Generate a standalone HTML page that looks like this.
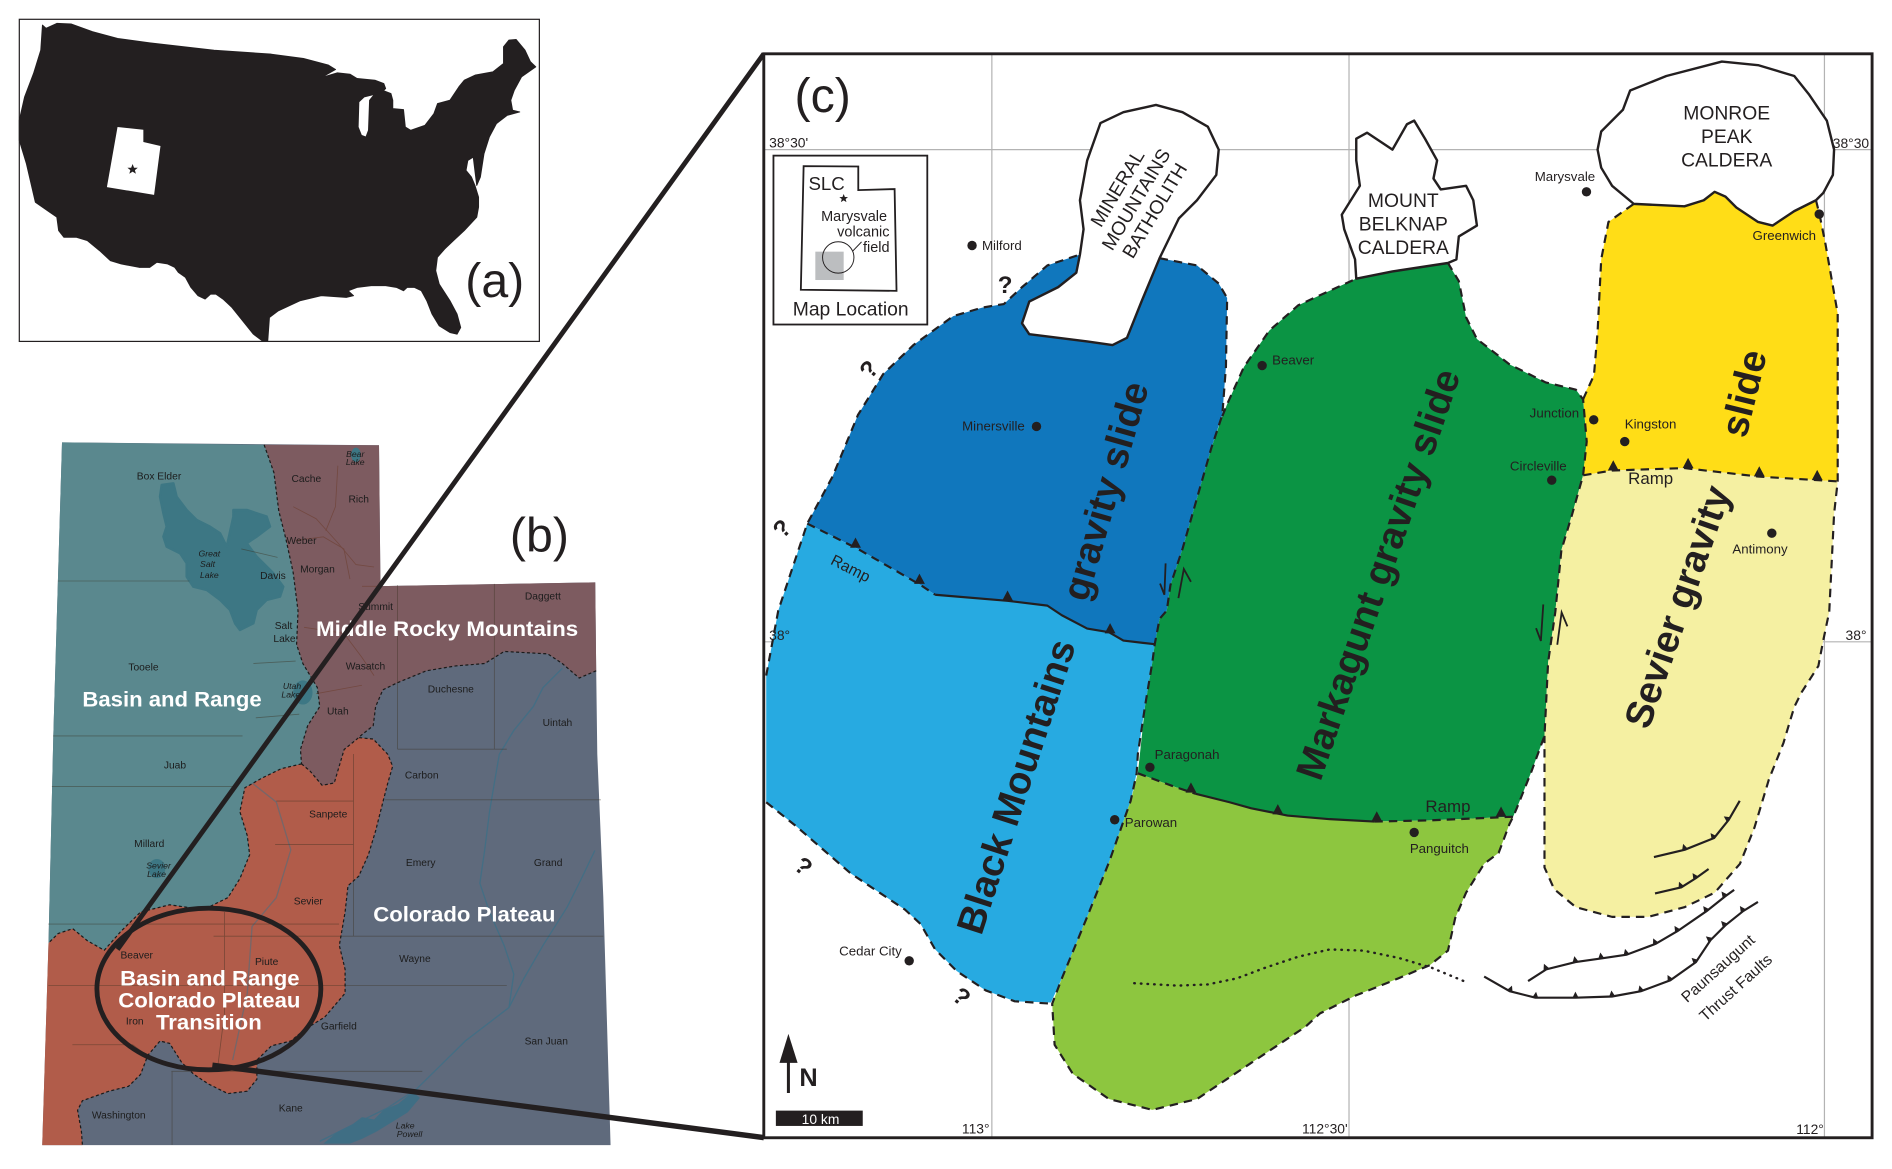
<!DOCTYPE html>
<html><head><meta charset="utf-8"><style>html,body{margin:0;padding:0;background:#fff;overflow:hidden}svg{display:block}</style></head>
<body>
<svg xmlns="http://www.w3.org/2000/svg" width="1892" height="1169" viewBox="0 0 1568 969" preserveAspectRatio="none" font-family="'Liberation Sans', Arial, sans-serif">
<defs>
<marker id="tk" markerUnits="userSpaceOnUse" markerWidth="6" markerHeight="12" viewBox="-3 -6 6 12" refX="0" refY="0" orient="auto"><path d="M-2.5,0 L2.5,0 L0,-5 Z" fill="#231f20"/></marker>
</defs>
<rect width="1568" height="969" fill="#fff"/>

<!-- Panel (a) -->
<rect x="16" y="16" width="431" height="267" fill="#fff" stroke="#231f20" stroke-width="1"/>
<path fill="#231f20" stroke="#231f20" stroke-width="0.8" stroke-linejoin="round" d="M35.2,20.8 L38.2,23.5 L47.1,19.4 L58.9,19.9 L76.7,26.3 L97.5,31.9 L124.1,35.5 L177.4,41.6 L224.8,44.9 L251.5,48.5 L272.2,54 L278.1,57.6 L266.3,64.3 L279.6,60.4 L290,61.5 L295.9,65.1 L310.7,66.5 L318.1,69.3 L319.6,73.4 L316.6,76.2 L307.7,78.9 L301.8,80.3 L297.4,84.5 L296.8,105.3 L299.5,112.2 L303.3,113.6 L305.4,108 L306.3,83.1 L310.7,77.6 L318.1,75.3 L324,77.6 L325.5,83.1 L325.5,90 L334.4,90.9 L335.9,105.3 L340.3,108 L352.2,103.9 L359.6,94.2 L362.6,85.9 L372.9,83.1 L380.3,72 L384.8,66.5 L393.7,62.3 L408.5,59.6 L417.3,52.6 L417.3,38.8 L421.8,33.2 L427.7,32.7 L435.1,41.6 L439.6,51.2 L444,55.4 L432.2,63.7 L426.2,74.8 L423.3,83.1 L424.8,91.4 L430.7,92.8 L420.3,95.6 L411.4,102.5 L405.5,113.6 L401.1,127.4 L398.1,146.8 L395.1,153.7 L392.2,130.2 L387.7,133 L386.2,141.3 L390.7,146.8 L393.6,153.7 L396.6,163.4 L396.6,171.7 L395.1,180 L384.8,191.1 L375.9,199.4 L368.5,206.4 L362.5,213.3 L361.1,224.4 L364,235.5 L372.9,249.3 L378.8,260.4 L381.8,271.5 L378.8,277 L372.9,275.6 L364,270.1 L358.1,260.4 L353.7,249.3 L349.2,241 L343.3,238.2 L337.4,238.2 L334.4,241 L328.5,238.2 L319.6,236.8 L307.7,236.8 L295.9,238.2 L288.5,241 L293,245.1 L287,246.5 L266.3,245.1 L248.5,249.3 L230.7,257.6 L223.3,263.2 L221.9,282.5 L217.4,282.5 L210,277 L201.1,265.9 L192.2,254.8 L184.8,247.9 L178.9,243.8 L174.5,243.8 L170,247.9 L164.1,245.1 L158.2,238.2 L153.7,229.9 L147.8,225.8 L144.8,221.6 L138.9,218.8 L130,217.4 L124.1,221.6 L115.2,221.6 L100.4,218.8 L91.5,216.1 L82.6,207.8 L72.3,199.4 L63.4,196.7 L53,196.7 L48.6,191.1 L47.1,180 L41.2,175.9 L29.3,167.6 L26.4,155.1 L21.9,135.7 L16,116.3 L16,99.7 L20.4,80.3 L27.8,60.9 L33.8,41.6 Z"/>
<path fill="#fff" d="M97.4,105.3 L118.8,107.5 L118.8,117.7 L133,121 L127.7,161.5 L88.6,155.1 Z"/>
<polygon fill="#231f20" points="109.9,135.9 111.1,139 114.2,139.1 111.8,141 112.6,144 109.9,142.3 107.2,144 108,141 105.6,139.1 108.7,139"/>
<text x="385.6" y="246" font-size="40" fill="#231f20">(a)</text>

<!-- Panel (b) Utah -->
<path fill="#5f6a7c" d="M51.4,366.7 L314.1,369.1 L315.3,485.9 L493.3,482.7 L494.1,556 L495,625 L500,744 L506,949.2 L35,949.2 L40.2,781.7 L44.2,609.5 Z"/>
<path fill="#b15c4a" d="M40.2,781.7 L48.2,773.8 L60.3,769.8 L72.3,779.7 L86.4,787.7 L100.4,771.8 L116.5,756 L140.6,750 L168.7,754 L188.8,744.1 L198.8,728.3 L206.9,708.5 L204.9,692.6 L198.8,672.8 L202.9,653 L217,645 L233,637.2 L249.9,633.2 L257,639.2 L267,651 L277,649 L285.2,621.3 L297.3,611.4 L309.3,612.6 L321.4,625.3 L325.4,635.2 L321.4,649 L317.3,664.9 L311.3,688.7 L305.3,708.5 L297.3,726.3 L288.4,734.2 L286,756 L281.2,783.7 L286,803.5 L286,823.3 L269.1,843.1 L253.1,853 L241,862.9 L225,866.9 L212.9,878.7 L212.9,894.6 L204.9,904.5 L188.8,906.5 L172.7,898.5 L160.7,890.6 L150.6,880.7 L140.6,864.9 L132.6,862.9 L122.5,874.8 L116.5,890.6 L106.5,900.5 L90.4,904.5 L68.3,912.4 L64.3,920.3 L67.5,938.1 L68.3,949.2 L35,949.2 Z"/>
<path fill="#7d5b60" d="M218.9,368.7 L314.1,369.1 L315.3,485.9 L493.3,482.7 L494.1,556 L480,562 L466,550 L454,542 L417.8,540 L401.7,550 L377.6,552 L353.5,556 L329.4,565.9 L317.3,571.8 L311.3,585.7 L309.3,601.5 L299.3,609.5 L297.3,611.4 L285.2,621.3 L277,649 L267,651 L257,639.2 L249.9,633.2 L249,621.3 L255,601.5 L265,585.7 L263,569.9 L251,550 L245.8,534.2 L247,506.5 L243,474.8 L237,447 L231,423.3 L227,391.7 Z"/>
<path fill="#5a888e" d="M51.4,366.7 L218.9,368.7 L227,391.7 L231,423.3 L237,447 L243,474.8 L247,506.5 L245.8,534.2 L251,550 L263,569.9 L265,585.7 L255,601.5 L249,621.3 L249.9,633.2 L233,637.2 L217,645 L202.9,653 L198.8,672.8 L204.9,692.6 L206.9,708.5 L198.8,728.3 L188.8,744.1 L168.7,754 L140.6,750 L116.5,756 L100.4,771.8 L86.4,787.7 L72.3,779.7 L60.3,769.8 L48.2,773.8 L40.2,781.7 L44.2,609.5 Z"/>
<!-- lakes -->
<path fill="#3d7784" stroke="#3d7784" stroke-width="2" stroke-linejoin="round" d="M134,402 L143.7,400.6 L146.4,411.7 L154.7,422.7 L163,431 L174,436.5 L182.4,442 L187.9,453.1 L193.4,428.2 L193.4,422.7 L204.5,422.7 L221,428.2 L223.8,436.5 L212.7,444.8 L204.5,450.3 L212.7,461.4 L226.6,475.2 L234.8,486.3 L232.1,494.5 L221,497.3 L212.7,505.6 L210,516.7 L198.9,522.2 L194.8,516.7 L190.6,505.6 L182.4,497.3 L171.3,489 L160.2,486.3 L154.7,478 L154.7,466.9 L149.2,458.6 L138.1,453.1 L135.4,444.8 L138.1,436.5 L135.4,425.5 L132.6,411.7 Z"/>
<ellipse cx="251" cy="574" rx="8" ry="10" fill="#3d7784"/>
<ellipse cx="130" cy="720" rx="7" ry="8" fill="#3d7784"/>
<ellipse cx="295" cy="377" rx="4" ry="6" fill="#3d7784"/>
<path fill="#3a6f86" opacity="0.85" d="M268,948 L280,938 L292,932 L300,926 L310,928 L318,920 L330,915 L342,905 L348,910 L338,922 L325,930 L312,938 L300,944 L290,948 Z"/>
<!-- rivers -->
<g fill="none" stroke="#3f6f86" stroke-width="1.1" opacity="0.85">
<path d="M466,554 L450,570 L442,585.7 L425.8,605.5 L413.8,625.3 L409.7,649 L405.7,672.8 L401.7,704.5 L397.7,732.2 L405.7,756 L417.8,783.7 L425.8,807.5 L421.8,835.2"/>
<path d="M493,705 L482,728 L470,752 L450,783.7 L434,811.4 L421.8,835.2 L385.6,862.9 L361.5,886.7 L345.5,902.5 L321.4,918.3 L289.2,934 L265,946"/>
<path d="M208.9,649 L229,664.9 L241,704.5 L229,744.1 L208.9,767.9 L204.9,823.3 L192.8,878.7" opacity="0.6"/>
</g>
<!-- county lines -->
<g fill="none" stroke="#3a3020" stroke-width="0.7" opacity="0.45">
<path d="M48,481.6 L157,481.6"/><path d="M44,610 L201,610"/><path d="M43,652 L193,652"/>
<path d="M40,766 L281,766"/><path d="M177,776 L500,776"/><path d="M40,817 L420,817"/>
<path d="M142,888 L350,888"/><path d="M142.6,888 L142.6,949"/><path d="M329.4,485 L329.4,621"/>
<path d="M409.7,484 L409.7,621"/><path d="M329.4,621 L420,621"/><path d="M319,663 L498,663"/>
<path d="M293,625 L293,776"/><path d="M229,664 L293,664"/><path d="M228,700 L293,700"/>
<path d="M60,866 L110,866 L118,872"/><path d="M186,756 L186,840 L180,888"/>
<path d="M200,455 L230,462"/><path d="M210,550 L245,548"/><path d="M212,595 L248,592"/>
</g>
<g fill="none" stroke="#6b3b2a" stroke-width="0.7" opacity="0.55">
<path d="M243,420 L262,430 L280,450 L295,468 L310,470"/>
<path d="M280,386 L278,420 L270,440"/>
<path d="M245,448 L268,445 L285,455 L290,480"/>
<path d="M252,520 L285,525 L300,545 L310,560"/>
<path d="M300,486 L315,486"/>
<path d="M262,575 L300,568"/>
</g>
<!-- dashed province boundaries -->
<g fill="none" stroke="#1a1a1a" stroke-width="1" stroke-dasharray="2.5 2">
<path d="M218.9,368.7 L227,391.7 L231,423.3 L237,447 L243,474.8 L247,506.5 L245.8,534.2 L251,550 L263,569.9 L265,585.7 L255,601.5 L249,621.3 L249.9,633.2"/>
<path d="M249.9,633.2 L233,637.2 L217,645 L202.9,653 L198.8,672.8 L204.9,692.6 L206.9,708.5 L198.8,728.3 L188.8,744.1 L168.7,754 L140.6,750 L116.5,756 L100.4,771.8 L86.4,787.7 L72.3,779.7 L60.3,769.8 L48.2,773.8 L40.2,781.7"/>
<path d="M494.1,556 L480,562 L466,550 L454,542 L417.8,540 L401.7,550 L377.6,552 L353.5,556 L329.4,565.9 L317.3,571.8 L311.3,585.7 L309.3,601.5 L299.3,609.5 L297.3,611.4 L309.3,612.6 L321.4,625.3 L325.4,635.2 L321.4,649 L317.3,664.9 L311.3,688.7 L305.3,708.5 L297.3,726.3 L288.4,734.2 L286,756 L281.2,783.7 L286,803.5 L286,823.3 L269.1,843.1 L253.1,853 L241,862.9 L225,866.9 L212.9,878.7 L212.9,894.6 L204.9,904.5 L188.8,906.5 L172.7,898.5 L160.7,890.6 L150.6,880.7 L140.6,864.9 L132.6,862.9 L122.5,874.8 L116.5,890.6 L106.5,900.5 L90.4,904.5 L68.3,912.4 L64.3,920.3 L67.5,938.1 L68.3,949.2"/>
<path d="M249.9,633.2 L257,639.2 L267,651 L277,649 L285.2,621.3 L297.3,611.4"/>
</g>
<!-- county labels -->
<g font-size="8.5" fill="#1c1c1c" text-anchor="middle">
<text x="131.8" y="397.4">Box Elder</text><text x="253.9" y="399.4">Cache</text>
<text x="297.3" y="416.4">Rich</text><text x="249.9" y="450.9">Weber</text>
<text x="263.1" y="474.7">Morgan</text><text x="226.2" y="479.8">Davis</text>
<text x="311.3" y="505.5">Summit</text><text x="449.9" y="496.8">Daggett</text>
<text x="235" y="521.4">Salt</text><text x="235.8" y="532">Lake</text>
<text x="118.9" y="555.8">Tooele</text><text x="302.9" y="555">Wasatch</text>
<text x="373.6" y="574">Duchesne</text><text x="280" y="592.3">Utah</text>
<text x="462" y="601.8">Uintah</text><text x="145" y="637">Juab</text>
<text x="349.5" y="645.3">Carbon</text><text x="272" y="677.8">Sanpete</text>
<text x="123.7" y="702">Millard</text><text x="348.7" y="717.8">Emery</text>
<text x="454.3" y="717.8">Grand</text><text x="255.5" y="749.9">Sevier</text>
<text x="113.3" y="794.6">Beaver</text><text x="221" y="799.8">Piute</text>
<text x="343.9" y="797.4">Wayne</text><text x="111.7" y="849.3">Iron</text>
<text x="280.8" y="853.2">Garfield</text><text x="452.7" y="865.9">San Juan</text>
<text x="98.4" y="927.3">Washington</text><text x="241" y="921.3">Kane</text>
</g>
<g font-size="7.2" fill="#1c1c1c" text-anchor="middle" font-style="italic">
<text x="294.4" y="379">Bear</text><text x="294.4" y="385.5">Lake</text>
<text x="173.5" y="461.5">Great</text><text x="172" y="470.2">Salt</text><text x="173.5" y="479">Lake</text>
<text x="242" y="571">Utah</text><text x="241" y="578">Lake</text>
<text x="131.4" y="720">Sevier</text><text x="129.7" y="727">Lake</text>
<text x="335.8" y="935.5">Lake</text><text x="339.4" y="942.5">Powell</text>
</g>
<g font-size="18" font-weight="bold" fill="#fff">
<text x="68.3" y="585.7" textLength="148.6" lengthAdjust="spacingAndGlyphs">Basin and Range</text>
<text x="261.9" y="527.1" textLength="217.3" lengthAdjust="spacingAndGlyphs">Middle Rocky Mountains</text>
<text x="309.3" y="763.9" textLength="151" lengthAdjust="spacingAndGlyphs">Colorado Plateau</text>
<text x="99.6" y="817" textLength="148.7" lengthAdjust="spacingAndGlyphs">Basin and Range</text>
<text x="98" y="835.2" textLength="151" lengthAdjust="spacingAndGlyphs">Colorado Plateau</text>
<text x="129.3" y="853.4" textLength="87.6" lengthAdjust="spacingAndGlyphs">Transition</text>
</g>
<text x="422.6" y="457" font-size="40" fill="#231f20">(b)</text>
<ellipse cx="173.1" cy="819.8" rx="92.8" ry="67" fill="none" stroke="#231f20" stroke-width="4"/>

<!-- connector lines -->
<line x1="633" y1="44.6" x2="97.4" y2="787" stroke="#231f20" stroke-width="4"/>
<line x1="176" y1="883" x2="633" y2="943" stroke="#231f20" stroke-width="4.5"/>

<!-- Panel (c) -->
<rect x="633" y="44.6" width="918.5" height="898.5" fill="#fff"/>
<g stroke="#b3b3b3" stroke-width="1">
<line x1="633" y1="124" x2="1551" y2="124"/>
<line x1="633" y1="532" x2="1551" y2="532"/>
<line x1="822" y1="44.6" x2="822" y2="943"/>
<line x1="1118" y1="44.6" x2="1118" y2="943"/>
<line x1="1512" y1="44.6" x2="1512" y2="943"/>
</g>

<!-- slide fills -->
<path fill="#1077bd" d="M669,434 L690,395 L711,344 L732,310 L757,286 L790,262 L814,255 L832,252 L847,238 L868,220 L895,211 L892,226 L877,238 L853,250 L847,268 L853,277 L901,283 L922,286 L934,280 L946,250 L961,214 L992,220 L1010,235 L1017,247 L1016,304 L1013,344 L1004,371 L992,413 L980,455 L970,485 L967,506 L961,513 L957,534 L931,531 L919,524 L901,521 L880,510 L868,502 L835,498 L775,493 L763,485 L711,455 Z"/>
<path fill="#27aae1" d="M669,434 L711,455 L763,485 L775,493 L835,498 L868,502 L880,510 L901,521 L919,524 L931,531 L957,534 L955,549 L949,585 L943,625 L942,641 L937,664 L919,715 L901,760 L880,811 L871,831 L841,830 L817,821 L793,805 L775,787 L763,766 L750,754 L705,724 L660,685 L635,665 L635,560 L645,506 Z"/>
<path fill="#0b9444" d="M1013,345 L1017,335 L1031,304 L1052,274 L1076,253 L1102,241 L1124,231 L1154,225 L1200,218 L1209,233 L1215,263 L1224,281 L1251,302 L1281,317 L1306,323 L1312,331 L1315,366 L1312,394 L1303,426 L1294,456 L1289,507 L1283,549 L1280,610 L1269,640 L1257,670 L1254,677 L1185,680 L1139,681 L1102,679 L1067,676 L1037,670 L1019,665 L991,658 L973,652 L943,641 L949,585 L955,549 L957,534 L961,513 L967,506 L970,485 L980,455 L992,413 L1004,371 Z"/>
<path fill="#8dc63f" d="M943,641 L973,652 L991,658 L1019,665 L1037,670 L1067,676 L1102,679 L1139,681 L1185,680 L1254,677 L1251,683 L1242,707 L1230,716 L1215,740 L1206,761 L1200,788 L1185,800 L1154,813 L1124,825 L1094,840 L1082,851 L1037,881 L992,911 L955,920 L919,911 L889,890 L874,866 L872,832 L880,811 L901,760 L919,715 L937,664 Z"/>
<path fill="#ffdd17" d="M1312,394 L1315,366 L1312,329 L1321,311 L1324,275 L1327,215 L1333,184 L1354,169 L1396,171 L1412,166 L1421,159 L1430,163 L1439,172 L1457,184 L1469,187 L1487,175 L1505,166 L1508,178 L1513,203 L1523,260 L1523,305 L1523,399 L1457,395 L1396,388 L1336,390 Z"/>
<path fill="#f5f0a2" d="M1312,394 L1336,390 L1396,388 L1457,395 L1523,399 L1520,426 L1516,507 L1511,531 L1507,552 L1493,574 L1487,586 L1478,616 L1466,646 L1454,686 L1442,716 L1421,740 L1396,752 L1366,760 L1336,760 L1306,752 L1288,737 L1280,719 L1280,640 L1280,610 L1283,549 L1289,507 L1294,456 L1303,426 Z"/>

<!-- calderas / batholith -->
<g fill="#fff" stroke="#231f20" stroke-width="2" stroke-linejoin="round">
<path d="M1354,169 L1336,154 L1327,139 L1324,124 L1327,109 L1345,91 L1351,75 L1381,63 L1427,51 L1457,54 L1487,63 L1499,78 L1514,100 L1520,124 L1519,145 L1511,160 L1505,166 L1487,175 L1469,187 L1457,184 L1439,172 L1430,163 L1421,159 L1412,166 L1396,171 Z"/>
<path d="M1124,231 L1123,215 L1114,190 L1112,178 L1127,154 L1124,133 L1124,115 L1133,110 L1154,124 L1166,103 L1172,100 L1181,115 L1191,133 L1188,148 L1194,157 L1215,154 L1221,166 L1224,187 L1209,196 L1207,215 L1200,218 L1154,225 Z"/>
<path d="M895,211 L898,190 L895,166 L901,133 L912,102 L931,93 L958,87 L980,93 L1001,105 L1010,124 L1008,145 L992,166 L977,181 L961,214 L946,250 L934,280 L922,286 L901,283 L853,277 L847,268 L853,250 L877,238 L892,226 Z"/>
</g>

<!-- dashed boundaries -->
<g fill="none" stroke="#231f20" stroke-width="1.8" stroke-dasharray="7 5" stroke-linejoin="round">
<path d="M635,560 L645,506 L669,434 L690,395 L711,344 L732,310 L757,286 L790,262 L814,255 L832,252 L847,238 L868,220 L895,211"/>
<path d="M961,214 L992,220 L1010,235 L1017,247 L1016,304 L1013,344 L1004,371 L992,413 L980,455 L970,485 L967,506 L961,513 L957,534 L955,549 L949,585 L943,625 L942,641 L937,664 L919,715 L901,760 L880,811 L872,832 L874,866 L889,890 L919,911 L955,920 L992,911 L1037,881 L1082,851 L1094,840 L1124,825 L1154,813 L1185,800 L1200,788 L1206,761 L1215,740 L1230,716 L1242,707 L1251,683 L1254,677 L1257,670 L1269,640 L1280,610 L1283,549 L1289,507 L1294,456 L1303,426 L1312,394 L1315,366 L1312,331 L1306,323 L1281,317 L1251,302 L1224,281 L1215,263 L1209,233 L1200,218"/>
<path d="M1013,345 L1017,335 L1031,304 L1052,274 L1076,253 L1102,241 L1124,231"/>
<path d="M635,665 L660,685 L705,724 L750,754 L763,766 L775,787 L793,805 L817,821 L841,830 L872,832"/>
<path d="M669,434 L711,455 L763,485 L775,493"/>
<path d="M943,641 L973,652 L991,658"/>
<path d="M1139,681 L1185,680 L1254,677"/>
<path d="M1312,331 L1321,311 L1324,275 L1327,215 L1333,184 L1354,169"/>
<path d="M1505,166 L1508,178 L1513,203 L1523,260 L1523,305 L1523,399 L1520,426 L1516,507 L1511,531 L1507,552 L1493,574 L1487,586 L1478,616 L1466,646 L1454,686 L1442,716 L1421,740 L1396,752 L1366,760 L1336,760 L1306,752 L1288,737 L1280,719 L1280,640 L1280,610"/>
<path d="M1312,394 L1336,390 L1396,388 L1457,395 L1523,399"/>
</g>
<g fill="none" stroke="#231f20" stroke-width="1.8" stroke-linejoin="round">
<path d="M775,493 L835,498 L868,502 L880,510 L901,521 L919,524 L931,531 L957,534"/>
<path d="M991,658 L1019,665 L1037,670 L1067,676 L1102,679 L1139,681"/>
</g>
<!-- ramp triangles -->
<g fill="#231f20">
<polygon points="704.5,454 713.5,454 709,445.5"/><polygon points="757.5,484 766.5,484 762,475.5"/>
<polygon points="830.5,498 839.5,498 835,489.5"/><polygon points="915.5,525 924.5,525 920,516.5"/>
<polygon points="982.5,657 991.5,657 987,648.5"/><polygon points="1054.5,675 1063.5,675 1059,666.5"/>
<polygon points="1136.5,681 1145.5,681 1141,672.5"/><polygon points="1239.5,677 1248.5,677 1244,668.5"/>
<polygon points="1332.5,390 1341.5,390 1337,381.5"/><polygon points="1394.5,388 1403.5,388 1399,379.5"/>
<polygon points="1453.5,395 1462.5,395 1458,386.5"/><polygon points="1501.5,398 1510.5,398 1506,389.5"/>
</g>
<!-- dotted thrust -->
<path d="M940,815 L976,817 L1001,816 L1025,811 L1049,802 L1076,793 L1102,787 L1130,788 L1159,794 L1186,802 L1215,814" fill="none" stroke="#231f20" stroke-width="2" stroke-dasharray="0.5 5" stroke-linecap="round"/>
<!-- Paunsaugunt faults -->
<g fill="none" stroke="#231f20" stroke-width="1.8" marker-mid="url(#tk)">
<path d="M1230,809.5 L1251.2,821.6 L1272.4,827 L1305.7,827 L1336,826 L1360,821.6 L1384.3,812.6 L1405.5,797.5 L1417.6,779.3 L1429.7,767.2 L1444.8,755.1 L1456.9,747.6"/>
<path d="M1266.4,813.2 L1281.5,803.5 L1305.7,797.5 L1327,794.5 L1348,791.4 L1372.2,782.3 L1390.4,771.7 L1414.5,755.1 L1429.7,743 L1437.2,737.6"/>
<path d="M1370.7,710.4 L1396.4,704.3 L1420.6,694.6 L1432.7,679.5 L1441.8,663.8"/>
<path d="M1371.6,740.6 L1393.4,735.5 L1405.5,727.9 L1416,720.3"/>
</g>
<!-- shear half arrows -->
<g fill="none" stroke="#231f20" stroke-width="1.5">
<path d="M966,467 L965,493 L961.4,483.7"/><path d="M976.6,495.8 L981.1,471.7 L987,482.3"/>
<path d="M1279,501 L1277,531.3 L1273,520.7"/><path d="M1290.6,534.4 L1294.2,507.7 L1299,519.2"/>
</g>

<!-- inset map -->
<rect x="641" y="129" width="127.5" height="140" fill="#fff" stroke="#231f20" stroke-width="1.5"/>
<path d="M666,137.7 L711.3,138 L711.3,157.6 L741.4,156.7 L743,241.1 L663.7,240.2 Z" fill="#fff" stroke="#231f20" stroke-width="1.5"/>
<rect x="675.7" y="208.6" width="23.5" height="23.5" fill="#bcbec0"/>
<circle cx="694.7" cy="213.4" r="13" fill="none" stroke="#231f20" stroke-width="0.8"/>
<line x1="706.8" y1="208" x2="714" y2="200.5" stroke="#231f20" stroke-width="0.8"/>
<polygon fill="#231f20" points="699.2,160.8 700.2,163.3 702.8,163.4 700.8,165 701.5,167.5 699.2,166.1 696.9,167.5 697.6,165 695.6,163.4 698.2,163.3"/>
<g fill="#231f20">
<text x="670" y="157.3" font-size="15.5">SLC</text>
<text x="680.5" y="183" font-size="12">Marysvale</text>
<text x="693.8" y="196" font-size="12">volcanic</text>
<text x="715.2" y="209" font-size="12">field</text>
<text x="657" y="261.6" font-size="16">Map Location</text>
<text x="658.5" y="93" font-size="40">(c)</text>
</g>

<!-- caldera labels -->
<g fill="#231f20" font-size="16" text-anchor="middle">
<text x="1431" y="99">MONROE</text><text x="1431" y="118.5">PEAK</text><text x="1431" y="138">CALDERA</text>
<text x="1163" y="171.5">MOUNT</text><text x="1163" y="191">BELKNAP</text><text x="1163" y="210.5">CALDERA</text>
<g transform="translate(941,165) rotate(-59)">
<text x="0" y="-12">MINERAL</text><text x="0" y="6">MOUNTAINS</text><text x="0" y="24">BATHOLITH</text>
</g>
</g>

<!-- big slide labels -->
<g fill="#231f20" font-size="32" font-weight="bold" text-anchor="middle">
<text transform="translate(842,652) rotate(-72)" y="11">Black Mountains</text>
<text transform="translate(916,407) rotate(-74)" y="11">gravity slide</text>
<text transform="translate(1142,476) rotate(-71)" y="11">Markagunt gravity slide</text>
<text transform="translate(1390,503) rotate(-71)" y="11">Sevier gravity</text>
<text transform="translate(1445,326) rotate(-76)" y="11">slide</text>
</g>

<!-- Ramp labels -->
<g fill="#231f20" text-anchor="middle">
<text transform="translate(705,471) rotate(27)" y="4.5" font-size="13">Ramp</text>
<text x="1368" y="401" font-size="14">Ramp</text>
<text x="1200" y="673" font-size="14">Ramp</text>
</g>

<!-- towns -->
<g fill="#231f20">
<circle cx="805.6" cy="203.5" r="3.9"/><circle cx="859" cy="353.5" r="3.9"/>
<circle cx="1046" cy="303" r="3.9"/><circle cx="1314.8" cy="159" r="3.9"/>
<circle cx="1507.7" cy="177.5" r="3.9"/><circle cx="1320.8" cy="348" r="3.9"/>
<circle cx="1346.5" cy="366" r="3.9"/><circle cx="1286" cy="398" r="3.9"/>
<circle cx="1468.4" cy="442" r="3.9"/><circle cx="953" cy="636" r="3.9"/>
<circle cx="923.8" cy="679.5" r="3.9"/><circle cx="753.5" cy="796.4" r="3.9"/>
<circle cx="1172" cy="690" r="3.9"/>
</g>
<g fill="#231f20" font-size="11">
<text x="813.8" y="207.4">Milford</text>
<text x="849.3" y="357" text-anchor="end">Minersville</text>
<text x="1054.3" y="302">Beaver</text>
<text x="1322" y="150" text-anchor="end">Marysvale</text>
<text x="1505" y="199" text-anchor="end">Greenwich</text>
<text x="1308.7" y="346" text-anchor="end">Junction</text>
<text x="1346.5" y="355">Kingston</text>
<text x="1298.4" y="390" text-anchor="end">Circleville</text>
<text x="1435.7" y="459">Antimony</text>
<text x="956.9" y="629">Paragonah</text>
<text x="932.2" y="685.5">Parowan</text>
<text x="747.4" y="792" text-anchor="end">Cedar City</text>
<text x="1168.4" y="707">Panguitch</text>
</g>

<!-- question marks -->
<g fill="#231f20" font-size="20" font-weight="bold" text-anchor="middle">
<text x="833" y="243">?</text>
<text transform="translate(720,306) rotate(-50)" y="7">?</text>
<text transform="translate(648,438) rotate(-45)" y="7">?</text>
<text transform="translate(666,718) rotate(40)" y="7">?</text>
<text transform="translate(797,826) rotate(40)" y="7">?</text>
</g>

<!-- Paunsaugunt label -->
<g fill="#231f20" font-size="13" text-anchor="middle">
<text transform="translate(1424,803) rotate(-42)" y="4">Paunsaugunt</text>
<text transform="translate(1436,816) rotate(-42)" y="8">Thrust Faults</text>
</g>

<!-- grid labels -->
<g fill="#231f20" font-size="11.5">
<text x="637.4" y="122.4">38°30'</text>
<text x="1518.9" y="122.7">38°30</text>
<text x="637.4" y="530.3">38°</text>
<text x="1529.5" y="530.4">38°</text>
<text x="797.2" y="939.6">113°</text>
<text x="1079" y="939.6">112°30'</text>
<text x="1488.6" y="940">112°</text>
</g>

<!-- north arrow & scale -->
<line x1="653.4" y1="906" x2="653.4" y2="872" stroke="#231f20" stroke-width="2.5"/>
<polygon points="646,881 661,881 653.4,857" fill="#231f20"/>
<text x="662.5" y="900" font-size="21" font-weight="bold" fill="#231f20">N</text>
<rect x="643" y="920.6" width="72" height="12.7" fill="#231f20"/>
<text x="680" y="931.5" font-size="11.5" fill="#fff" text-anchor="middle">10 km</text>

<rect x="633" y="44.6" width="918.5" height="898.5" fill="none" stroke="#231f20" stroke-width="2.4"/>
</svg>
</body></html>
